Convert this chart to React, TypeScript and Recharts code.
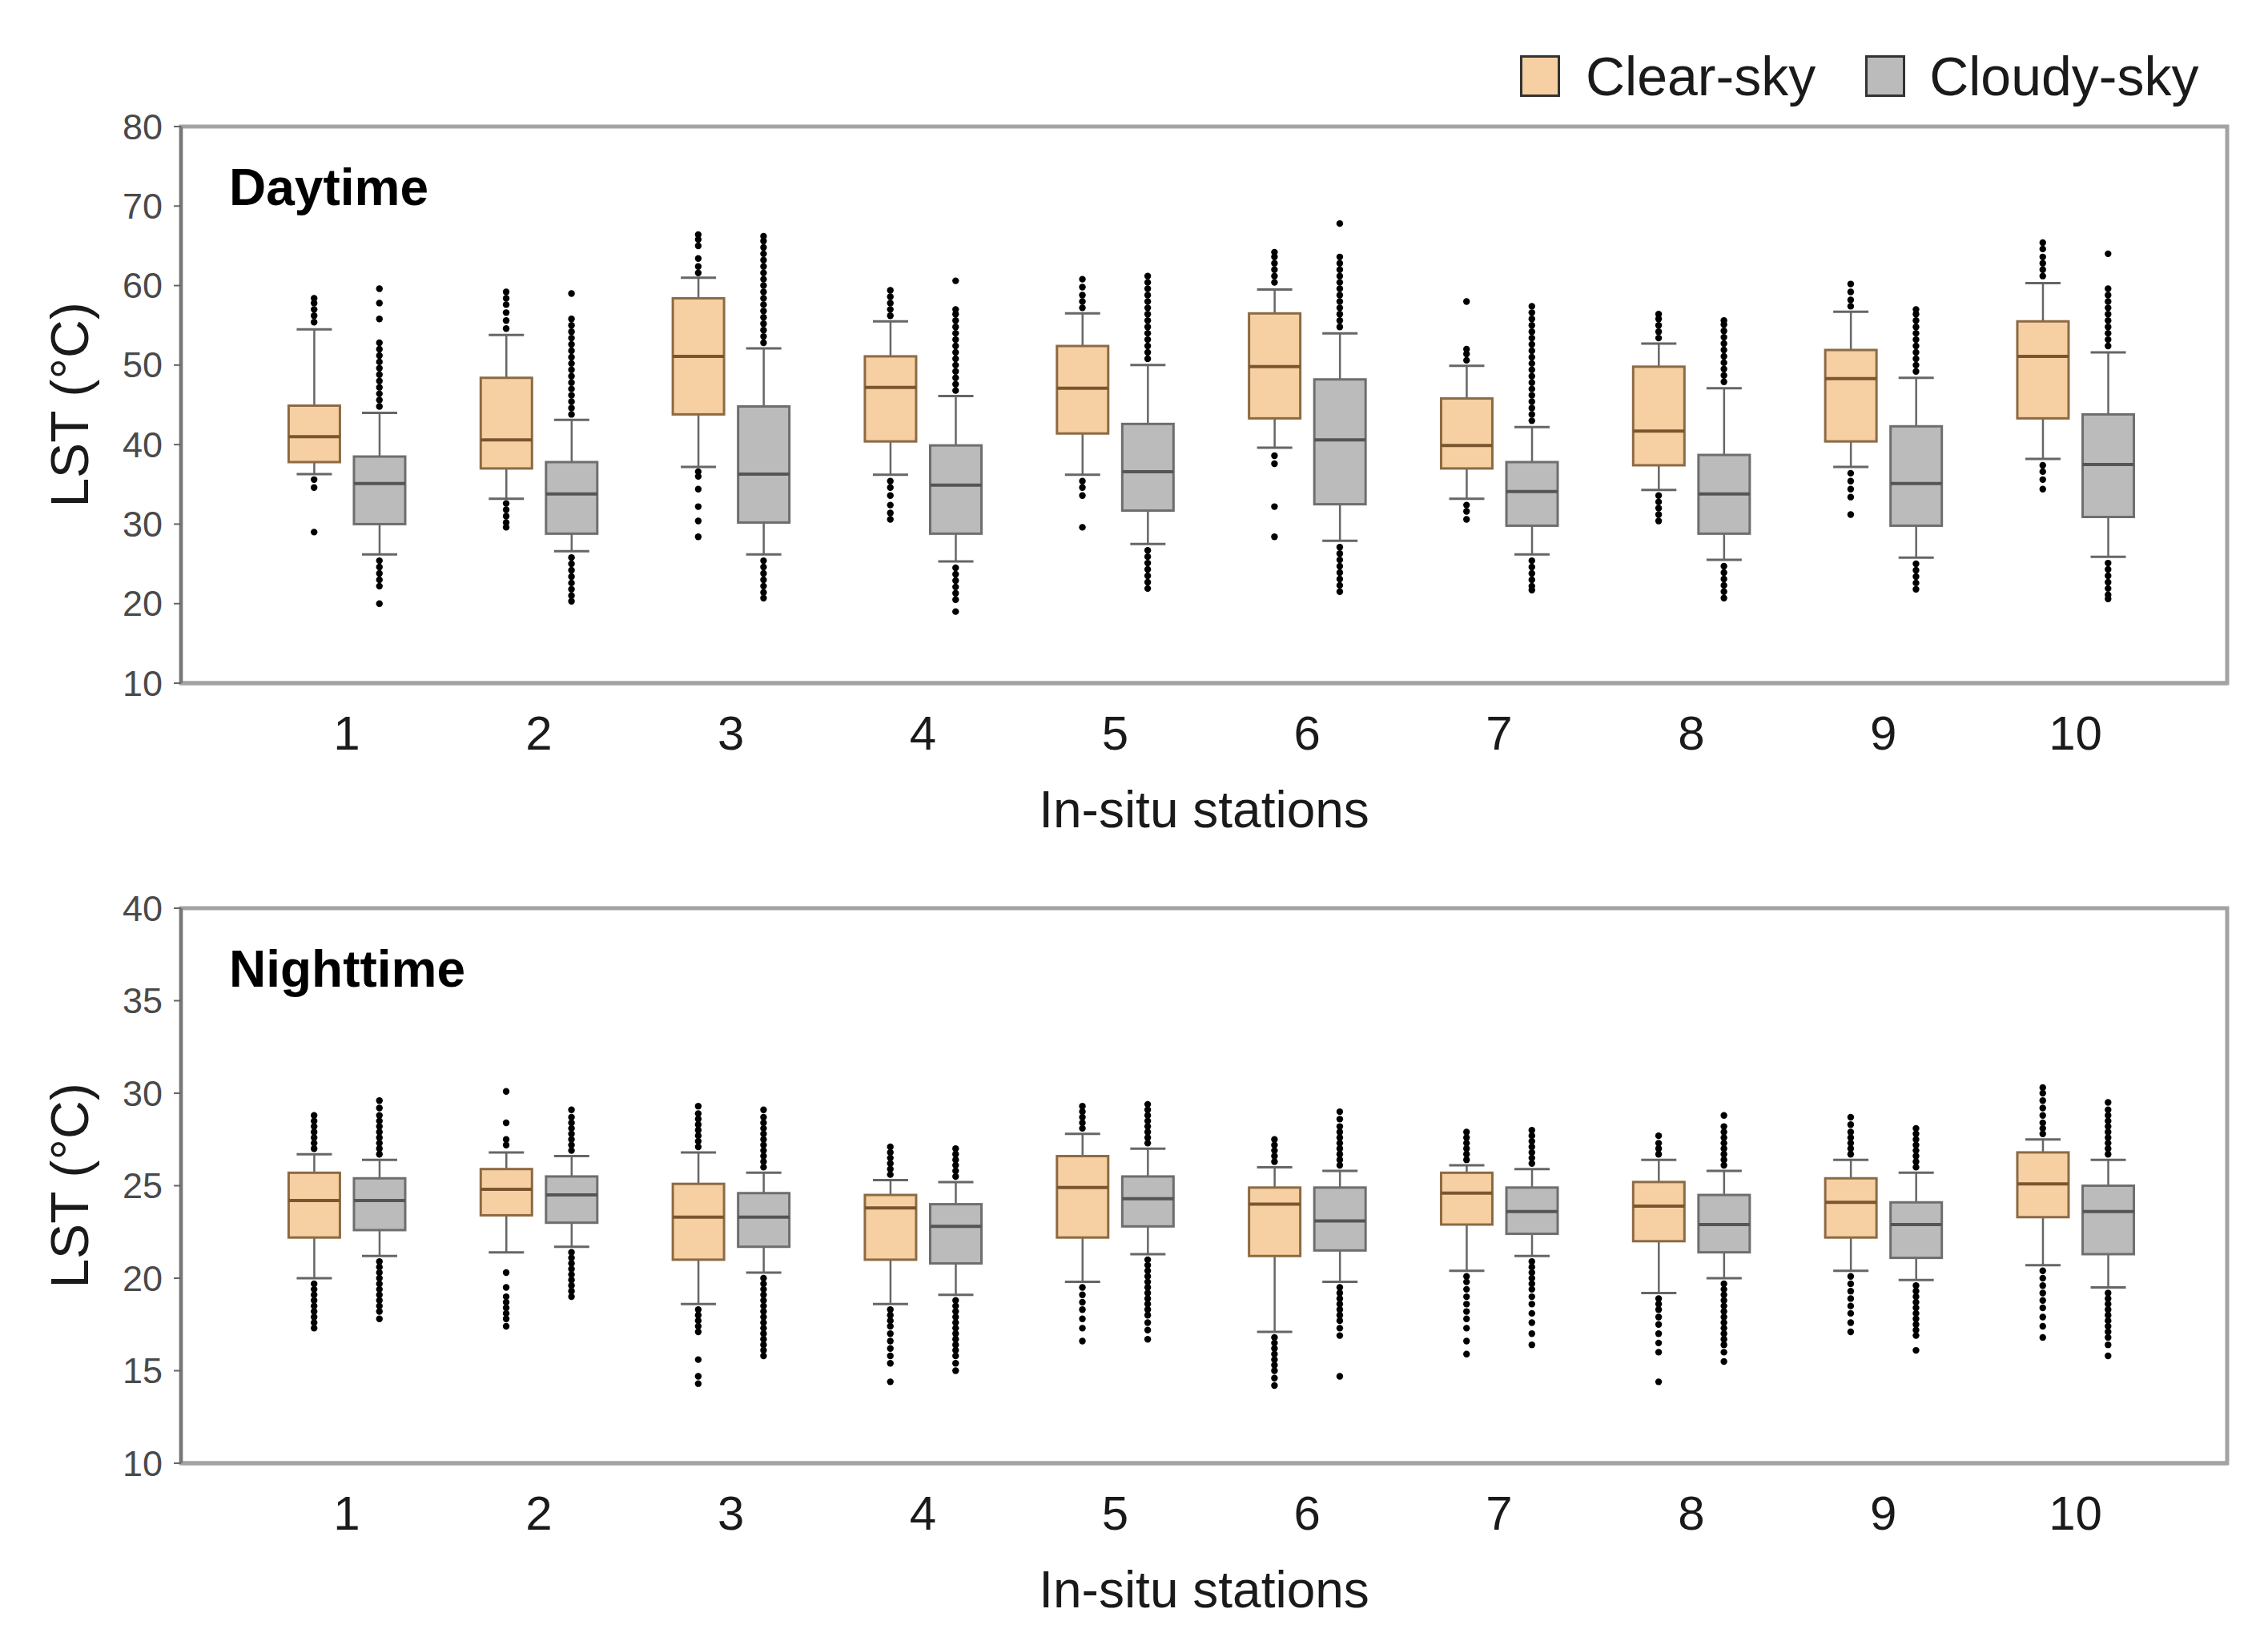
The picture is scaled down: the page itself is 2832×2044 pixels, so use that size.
import React from 'react';
import { ComposedChart, Bar, Scatter, XAxis, YAxis, ReferenceArea, Label } from 'recharts';

const FONT = '"Liberation Sans", Arial, sans-serif';

const STATIONS = [1, 2, 3, 4, 5, 6, 7, 8, 9, 10];
const X_DOMAIN = [0.137, 10.79];
const PAIR_OFFSET = 0.17;

const DAY_TICKS = [10, 20, 30, 40, 50, 60, 70, 80];
const NIGHT_TICKS = [10, 15, 20, 25, 30, 35, 40];

// [lower whisker, Q1, median, Q3, upper whisker]
const dayClearBox = [
  [36.3, 37.8, 41.0, 44.9, 54.5],
  [33.2, 37.0, 40.6, 48.4, 53.8],
  [37.2, 43.8, 51.1, 58.4, 61.0],
  [36.2, 40.4, 47.2, 51.1, 55.5],
  [36.2, 41.4, 47.1, 52.4, 56.5],
  [39.6, 43.3, 49.8, 56.5, 59.5],
  [33.2, 37.0, 39.9, 45.8, 49.9],
  [34.3, 37.4, 41.7, 49.8, 52.7],
  [37.2, 40.4, 48.3, 51.9, 56.7],
  [38.2, 43.3, 51.1, 55.5, 60.3],
];

const dayCloudyBox = [
  [26.2, 30.0, 35.1, 38.5, 44.0],
  [26.6, 28.8, 33.8, 37.8, 43.1],
  [26.2, 30.2, 36.3, 44.8, 52.1],
  [25.3, 28.8, 34.9, 39.9, 46.1],
  [27.5, 31.7, 36.6, 42.6, 50.0],
  [27.9, 32.5, 40.6, 48.2, 54.0],
  [26.2, 29.8, 34.1, 37.8, 42.2],
  [25.5, 28.8, 33.8, 38.7, 47.1],
  [25.8, 29.8, 35.1, 42.3, 48.4],
  [25.9, 30.9, 37.5, 43.8, 51.6],
];

const nightClearBox = [
  [20.0, 22.2, 24.2, 25.7, 26.7],
  [21.4, 23.4, 24.8, 25.9, 26.8],
  [18.6, 21.0, 23.3, 25.1, 26.8],
  [18.6, 21.0, 23.8, 24.5, 25.3],
  [19.8, 22.2, 24.9, 26.6, 27.8],
  [17.1, 21.2, 24.0, 24.9, 26.0],
  [20.4, 22.9, 24.6, 25.7, 26.1],
  [19.2, 22.0, 23.9, 25.2, 26.4],
  [20.4, 22.2, 24.1, 25.4, 26.4],
  [20.7, 23.3, 25.1, 26.8, 27.5],
];

const nightCloudyBox = [
  [21.2, 22.6, 24.2, 25.4, 26.4],
  [21.7, 23.0, 24.5, 25.5, 26.6],
  [20.3, 21.7, 23.3, 24.6, 25.7],
  [19.1, 20.8, 22.8, 24.0, 25.2],
  [21.3, 22.8, 24.3, 25.5, 27.0],
  [19.8, 21.5, 23.1, 24.9, 25.8],
  [21.2, 22.4, 23.6, 24.9, 25.9],
  [20.0, 21.4, 22.9, 24.5, 25.8],
  [19.9, 21.1, 22.9, 24.1, 25.7],
  [19.5, 21.3, 23.6, 25.0, 26.4],
];

const dayClearOut = [
  [55.4, 56.2, 57.0, 57.8, 58.4, 35.6, 34.6, 29.0],
  [54.6, 55.6, 56.6, 57.6, 58.4, 59.2, 32.6, 31.8, 31.0, 30.2, 29.6],
  [61.6, 62.4, 63.4, 65.0, 65.8, 66.4, 36.6, 36.0, 34.4, 32.2, 30.4, 28.4],
  [56.2, 57.0, 57.8, 58.6, 59.4, 35.4, 34.6, 33.6, 32.4, 31.4, 30.6],
  [57.2, 58.0, 58.8, 59.8, 60.8, 35.4, 34.6, 33.6, 29.6],
  [60.4, 61.2, 62.0, 62.8, 63.6, 64.2, 38.6, 37.6, 32.2, 28.4],
  [50.6, 51.4, 52.0, 58.0, 32.4, 31.6, 30.6],
  [53.4, 54.2, 55.0, 55.8, 56.4, 33.6, 32.8, 32.0, 31.2, 30.4],
  [57.4, 58.2, 59.2, 60.2, 36.4, 35.4, 34.4, 33.4, 31.2],
  [61.2, 62.0, 62.8, 63.6, 64.6, 65.4, 37.4, 36.6, 35.6, 34.4],
];

const dayCloudyOut = [
  [44.8, 45.6, 46.4, 47.2, 48.0, 48.8, 49.6, 50.4, 51.2, 52.0, 52.8, 55.8, 57.8, 59.6,
    25.4, 24.6, 23.8, 23.0, 22.2, 20.0],
  [43.8, 44.6, 45.4, 46.2, 47.0, 47.8, 48.6, 49.4, 50.2, 51.0, 51.8, 52.6, 53.4, 54.2, 55.0, 55.8, 59.0,
    25.8, 25.0, 24.2, 23.4, 22.6, 21.8, 21.0, 20.3],
  [52.8, 53.6, 54.4, 55.2, 56.0, 56.8, 57.6, 58.4, 59.2, 60.0, 60.8, 61.6, 62.4, 63.2, 64.0, 64.8, 65.6, 66.2,
    25.4, 24.6, 23.8, 23.0, 22.2, 21.4, 20.7],
  [46.8, 47.6, 48.4, 49.2, 50.0, 50.8, 51.6, 52.4, 53.2, 54.0, 54.8, 55.6, 56.4, 57.0, 60.6,
    24.5, 23.7, 22.9, 22.1, 21.3, 20.5, 19.0],
  [50.8, 51.6, 52.4, 53.2, 54.0, 54.8, 55.6, 56.4, 57.2, 58.0, 58.8, 59.6, 60.4, 61.2,
    26.7, 25.9, 25.1, 24.3, 23.5, 22.7, 21.9],
  [54.8, 55.6, 56.4, 57.2, 58.0, 58.8, 59.6, 60.4, 61.2, 62.0, 62.8, 63.6, 67.8,
    27.1, 26.3, 25.5, 24.7, 23.9, 23.1, 22.3, 21.5],
  [43.0, 43.8, 44.6, 45.4, 46.2, 47.0, 47.8, 48.6, 49.4, 50.2, 51.0, 51.8, 52.6, 53.4, 54.2, 55.0, 55.8, 56.6, 57.4,
    25.4, 24.6, 23.8, 23.0, 22.2, 21.7],
  [47.9, 48.7, 49.5, 50.3, 51.1, 51.9, 52.7, 53.5, 54.3, 55.1, 55.6,
    24.7, 23.9, 23.1, 22.3, 21.5, 20.7],
  [49.2, 50.0, 50.8, 51.6, 52.4, 53.2, 54.0, 54.8, 55.6, 56.4, 57.0,
    25.0, 24.2, 23.4, 22.6, 21.8],
  [52.4, 53.2, 54.0, 54.8, 55.6, 56.4, 57.2, 58.0, 58.8, 59.6, 64.0,
    25.1, 24.3, 23.5, 22.7, 21.9, 21.1, 20.6],
];

const nightClearOut = [
  [27.0, 27.3, 27.6, 27.9, 28.2, 28.5, 28.8, 19.7, 19.4, 19.1, 18.8, 18.5, 18.2, 17.9, 17.6, 17.3],
  [27.2, 27.5, 28.4, 30.1, 20.3, 19.5, 19.0, 18.7, 18.4, 18.1, 17.8, 17.4],
  [27.1, 27.4, 27.7, 28.0, 28.3, 28.6, 28.9, 29.3, 18.3, 18.0, 17.7, 17.4, 17.1, 15.6, 14.7, 14.3],
  [25.6, 25.9, 26.2, 26.5, 26.8, 27.1, 18.3, 18.0, 17.7, 17.4, 17.0, 16.6, 16.2, 15.8, 15.4, 14.4],
  [28.1, 28.4, 28.7, 29.0, 29.3, 19.5, 19.1, 18.7, 18.3, 17.8, 17.3, 16.6],
  [26.3, 26.6, 26.9, 27.2, 27.5, 16.8, 16.5, 16.2, 15.9, 15.6, 15.3, 15.0, 14.6, 14.2],
  [26.4, 26.7, 27.0, 27.3, 27.6, 27.9, 20.1, 19.8, 19.4, 19.0, 18.6, 18.2, 17.8, 17.3, 16.6, 15.9],
  [26.7, 27.0, 27.3, 27.7, 18.9, 18.6, 18.3, 17.9, 17.5, 17.0, 16.5, 16.0, 14.4],
  [26.7, 27.0, 27.3, 27.6, 27.9, 28.3, 28.7, 20.1, 19.7, 19.3, 18.9, 18.5, 18.1, 17.6, 17.1],
  [27.8, 28.1, 28.4, 28.8, 29.2, 29.6, 30.0, 30.3, 20.4, 20.0, 19.6, 19.2, 18.8, 18.4, 17.9, 17.4, 16.8],
];

const nightCloudyOut = [
  [26.7, 27.0, 27.3, 27.6, 27.9, 28.2, 28.5, 28.8, 29.2, 29.6,
    20.9, 20.6, 20.3, 20.0, 19.7, 19.4, 19.1, 18.8, 18.5, 18.2, 17.8],
  [26.9, 27.2, 27.5, 27.8, 28.1, 28.4, 28.7, 29.1,
    21.4, 21.1, 20.8, 20.5, 20.2, 19.9, 19.6, 19.3, 19.0],
  [26.0, 26.3, 26.6, 26.9, 27.2, 27.5, 27.8, 28.1, 28.4, 28.7, 29.1,
    20.0, 19.7, 19.4, 19.1, 18.8, 18.5, 18.2, 17.9, 17.6, 17.3, 17.0, 16.7, 16.4, 16.1, 15.8],
  [25.5, 25.8, 26.1, 26.4, 26.7, 27.0,
    18.8, 18.5, 18.2, 17.9, 17.6, 17.3, 17.0, 16.7, 16.4, 16.1, 15.8, 15.4, 15.0],
  [27.3, 27.6, 27.9, 28.2, 28.5, 28.8, 29.1, 29.4,
    21.0, 20.7, 20.4, 20.1, 19.8, 19.5, 19.2, 18.9, 18.6, 18.3, 18.0, 17.6, 17.2, 16.7],
  [26.1, 26.4, 26.7, 27.0, 27.3, 27.6, 27.9, 28.2, 28.6, 29.0,
    19.5, 19.2, 18.9, 18.6, 18.3, 18.0, 17.7, 17.3, 16.9, 14.7],
  [26.2, 26.5, 26.8, 27.1, 27.4, 27.7, 28.0,
    20.9, 20.6, 20.3, 20.0, 19.7, 19.4, 19.0, 18.6, 18.1, 17.6, 17.0, 16.4],
  [26.1, 26.4, 26.7, 27.0, 27.3, 27.6, 27.9, 28.2, 28.8,
    19.7, 19.4, 19.1, 18.8, 18.5, 18.2, 17.9, 17.6, 17.3, 17.0, 16.7, 16.4, 16.0, 15.5],
  [26.0, 26.3, 26.6, 26.9, 27.2, 27.5, 27.8, 28.1,
    19.6, 19.3, 19.0, 18.7, 18.4, 18.1, 17.8, 17.5, 17.2, 16.9, 16.1],
  [26.7, 27.0, 27.3, 27.6, 27.9, 28.2, 28.5, 28.8, 29.1, 29.5,
    19.2, 18.9, 18.6, 18.3, 18.0, 17.7, 17.4, 17.1, 16.8, 16.4, 15.8],
];

const COLORS = {
  clear: { fill: '#F6D0A2', stroke: '#8C6A44', median: '#7A5630' },
  cloudy: { fill: '#BBBBBB', stroke: '#6E6E6E', median: '#555555' },
};

function buildRows(clear: number[][], cloudy: number[][]) {
  const rows: any[] = [];
  STATIONS.forEach((s, i) => {
    rows.push({ x: s - PAIR_OFFSET, kind: 'clear', stats: clear[i], range: [clear[i][0], clear[i][4]] });
    rows.push({ x: s + PAIR_OFFSET, kind: 'cloudy', stats: cloudy[i], range: [cloudy[i][0], cloudy[i][4]] });
  });
  return rows;
}

function buildOutliers(clear: number[][], cloudy: number[][]) {
  const pts: { x: number; y: number }[] = [];
  STATIONS.forEach((s, i) => {
    clear[i].forEach((v) => pts.push({ x: s - PAIR_OFFSET, y: v }));
    cloudy[i].forEach((v) => pts.push({ x: s + PAIR_OFFSET, y: v }));
  });
  return pts;
}

const BoxShape = (props: any) => {
  const { x, y, width, height, payload } = props;
  if (!payload || height == null) return null;
  const [lo, q1, med, q3, hi] = payload.stats;
  const ppu = height / (hi - lo);
  const py = (v: number) => y + (hi - v) * ppu;
  const cx = x + width / 2;
  const c = COLORS[payload.kind as 'clear' | 'cloudy'];
  const cap = 22;
  return (
    <g>
      <line x1={cx} x2={cx} y1={py(hi)} y2={py(q3)} stroke="#666" strokeWidth={2.5} />
      <line x1={cx} x2={cx} y1={py(q1)} y2={py(lo)} stroke="#666" strokeWidth={2.5} />
      <line x1={cx - cap} x2={cx + cap} y1={py(hi)} y2={py(hi)} stroke="#666" strokeWidth={3} />
      <line x1={cx - cap} x2={cx + cap} y1={py(lo)} y2={py(lo)} stroke="#666" strokeWidth={3} />
      <rect x={x} y={py(q3)} width={width} height={py(q1) - py(q3)} fill={c.fill} stroke={c.stroke} strokeWidth={3} />
      <line x1={x} x2={x + width} y1={py(med)} y2={py(med)} stroke={c.median} strokeWidth={4} />
    </g>
  );
};

const Dot = (props: any) => <circle cx={props.cx} cy={props.cy} r={4.2} fill="#000" />;

interface PanelProps {
  title: string;
  clearBox: number[][];
  cloudyBox: number[][];
  clearOut: number[][];
  cloudyOut: number[][];
  yTicks: number[];
  height: number;
  top: number;
  xAxisHeight: number;
}

const Panel: React.FC<PanelProps> = ({ title, clearBox, cloudyBox, clearOut, cloudyOut, yTicks, height, top, xAxisHeight }) => {
  const rows = buildRows(clearBox, cloudyBox);
  const outliers = buildOutliers(clearOut, cloudyOut);
  const yMin = yTicks[0];
  const yMax = yTicks[yTicks.length - 1];
  return (
    <div style={{ position: 'relative', width: 2832, height }}>
      <ComposedChart width={2832} height={height} data={rows} margin={{ top, right: 51, bottom: 0, left: 0 }}>
        <ReferenceArea x1={X_DOMAIN[0]} x2={X_DOMAIN[1]} y1={yMin} y2={yMax} fill="none" stroke="#a3a3a3" strokeWidth={5} />
        <XAxis
          dataKey="x"
          type="number"
          domain={X_DOMAIN}
          ticks={STATIONS}
          allowDataOverflow
          height={xAxisHeight}
          tickSize={0}
          axisLine={{ stroke: '#a3a3a3', strokeWidth: 5 }}
          tick={(p: any) => (
            <text x={p.x} y={p.y + 60} textAnchor="middle" dominantBaseline="central" fontSize={60} fill="#1a1a1a" fontFamily={FONT}>
              {p.payload.value}
            </text>
          )}
        >
          <Label
            content={(p: any) => (
              <text
                x={p.viewBox.x + p.viewBox.width / 2}
                y={p.viewBox.y + 158}
                textAnchor="middle"
                dominantBaseline="central"
                fontSize={64}
                fill="#1a1a1a"
                fontFamily={FONT}
              >
                In-situ stations
              </text>
            )}
          />
        </XAxis>
        <YAxis
          type="number"
          domain={[yMin, yMax]}
          ticks={yTicks}
          allowDataOverflow
          width={226}
          tickSize={9}
          tickMargin={14}
          tickLine={{ stroke: '#666', strokeWidth: 2 }}
          axisLine={{ stroke: '#777', strokeWidth: 4 }}
          tick={(p: any) => (
            <text x={p.x} y={p.y} textAnchor="end" dominantBaseline="central" fontSize={45} fill="#4a4a4a" fontFamily={FONT}>
              {p.payload.value}
            </text>
          )}
        >
          <Label
            content={(p: any) => {
              const cx = 87;
              const cy = p.viewBox.y + p.viewBox.height / 2;
              return (
                <text
                  x={cx}
                  y={cy}
                  transform={`rotate(-90 ${cx} ${cy})`}
                  textAnchor="middle"
                  dominantBaseline="central"
                  fontSize={66}
                  fill="#1a1a1a"
                  fontFamily={FONT}
                >
                  LST (°C)
                </text>
              );
            }}
          />
        </YAxis>
        <Bar dataKey="range" barSize={64} shape={<BoxShape />} isAnimationActive={false} />
        <Scatter data={outliers} dataKey="y" shape={<Dot />} isAnimationActive={false} />
      </ComposedChart>
      <div
        style={{
          position: 'absolute',
          left: 286,
          top: top + 44,
          fontFamily: FONT,
          fontWeight: 'bold',
          fontSize: 64,
          lineHeight: 1,
          color: '#000',
        }}
      >
        {title}
      </div>
    </div>
  );
};

const Swatch = ({ fill }: { fill: string }) => (
  <div style={{ width: 50, height: 52, background: fill, border: '3px solid #333', boxSizing: 'border-box' }} />
);

export default function App() {
  return (
    <div style={{ position: 'absolute', left: 0, top: 0, width: 2832, height: 2044, background: '#fff', fontFamily: FONT }}>
      <Panel
        title="Daytime"
        clearBox={dayClearBox}
        cloudyBox={dayCloudyBox}
        clearOut={dayClearOut}
        cloudyOut={dayCloudyOut}
        yTicks={DAY_TICKS}
        height={1060}
        top={158}
        xAxisHeight={207}
      />
      <Panel
        title="Nighttime"
        clearBox={nightClearBox}
        cloudyBox={nightCloudyBox}
        clearOut={nightClearOut}
        cloudyOut={nightCloudyOut}
        yTicks={NIGHT_TICKS}
        height={984}
        top={74}
        xAxisHeight={217}
      />
      <div style={{ position: 'absolute', left: 1898, top: 56, display: 'flex', alignItems: 'center', fontSize: 68, color: '#1a1a1a' }}>
        <Swatch fill={COLORS.clear.fill} />
        <span style={{ marginLeft: 32, marginRight: 62 }}>Clear-sky</span>
        <Swatch fill={COLORS.cloudy.fill} />
        <span style={{ marginLeft: 30 }}>Cloudy-sky</span>
      </div>
    </div>
  );
}
